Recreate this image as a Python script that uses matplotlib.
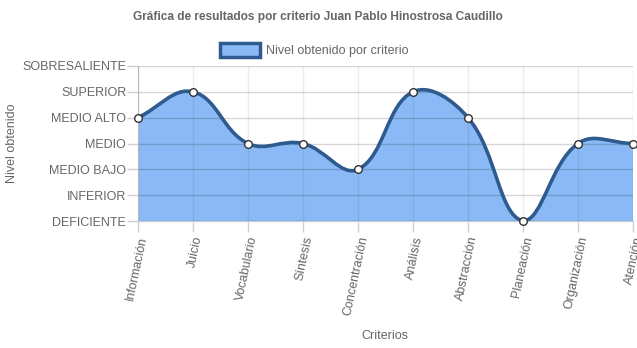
import numpy as np
import matplotlib
matplotlib.use("Agg")
import matplotlib.pyplot as plt
from matplotlib.path import Path
from matplotlib.patches import PathPatch, Patch

plt.rcParams['font.family'] = ['Liberation Sans', 'DejaVu Sans']

criterios = ["Información", "Juicio", "Vocabulario", "Síntesis", "Concentración",
             "Análisis", "Abstracción", "Planeación", "Organización", "Atención"]
niveles = ["DEFICIENTE", "INFERIOR", "MEDIO BAJO", "MEDIO", "MEDIO ALTO",
           "SUPERIOR", "SOBRESALIENTE"]
valores = [4, 5, 3, 3, 2, 5, 4, 0, 3, 3]

fill_color = "#8ab9f5"
line_color = "#2e5b8f"
text_color = "#666666"

W, H = 637, 348
fig = plt.figure(figsize=(W / 100, H / 100), dpi=100)
x0, x1, y0, y1 = 138, 633, 66, 221
ax = fig.add_axes([x0 / W, 1 - y1 / H, (x1 - x0) / W, (y1 - y0) / H])
ax.set_xlim(0, len(criterios) - 1)
ax.set_ylim(0, len(niveles) - 1)

# spline through the points, tension 0.4, computed in pixel units
sx = (x1 - x0) / (len(criterios) - 1)
sy = (y1 - y0) / (len(niveles) - 1)
pts = np.array([[i * sx, v * sy] for i, v in enumerate(valores)])
tension = 0.4
ctrl_prev, ctrl_next = [], []
for i in range(len(pts)):
    p0 = pts[max(i - 1, 0)]
    p1 = pts[i]
    p2 = pts[min(i + 1, len(pts) - 1)]
    d01 = np.hypot(*(p1 - p0))
    d12 = np.hypot(*(p2 - p1))
    s01 = d01 / (d01 + d12) if d01 + d12 else 0
    s12 = d12 / (d01 + d12) if d01 + d12 else 0
    cp = p1 - tension * s01 * (p2 - p0)
    cn = p1 + tension * s12 * (p2 - p0)
    cp[1] = np.clip(cp[1], 0, y1 - y0)
    cn[1] = np.clip(cn[1], 0, y1 - y0)
    ctrl_prev.append(cp / [sx, sy])
    ctrl_next.append(cn / [sx, sy])

data_pts = pts / [sx, sy]
verts = [data_pts[0]]
codes = [Path.MOVETO]
for i in range(1, len(data_pts)):
    verts += [ctrl_next[i - 1], ctrl_prev[i], data_pts[i]]
    codes += [Path.CURVE4] * 3
curve = Path(verts, codes)

fill_verts = verts + [(data_pts[-1][0], 0), (0, 0), data_pts[0]]
fill_codes = codes + [Path.LINETO, Path.LINETO, Path.CLOSEPOLY]
ax.add_patch(PathPatch(Path(fill_verts, fill_codes), facecolor=fill_color,
                       edgecolor="none", zorder=1))
ax.add_patch(PathPatch(curve, facecolor="none", edgecolor=line_color,
                       linewidth=2.6, zorder=3))
ax.plot(range(len(valores)), valores, "o", markersize=5.5, markerfacecolor="white",
        markeredgecolor="#333333", markeredgewidth=1.0, zorder=4, clip_on=False)

ax.set_xticks(range(len(criterios)))
ax.set_xticklabels(criterios, rotation=78, ha="right", va="top",
                   rotation_mode="anchor", color=text_color, fontsize=9)
ax.set_yticks(range(len(niveles)))
ax.set_yticklabels(niveles, color=text_color, fontsize=9)
ax.grid(axis="y", color="black", alpha=0.16, linewidth=1, zorder=2)
ax.grid(axis="x", color="black", alpha=0.07, linewidth=1, zorder=2)
ax.set_axisbelow(False)
ax.tick_params(axis="both", length=8, width=1, color="#d0d0d0")
ax.tick_params(axis="y", pad=0.5)
ax.tick_params(axis="x", pad=2)
for side in ["top", "right"]:
    ax.spines[side].set_visible(False)
for side in ["left", "bottom"]:
    ax.spines[side].set_color("#c8c8c8")

fig.text(318 / W, 1 - 17 / H, "Gráfica de resultados por criterio Juan Pablo Hinostrosa Caudillo",
         ha="center", va="center", fontsize=8.6, fontweight="bold", color=text_color)
fig.text(12 / W, 1 - 143 / H, "Nivel obtenido", rotation=90, ha="center", va="center",
         fontsize=9, color=text_color)
fig.text(385 / W, 1 - 336 / H, "Criterios", ha="center", va="center",
         fontsize=9, color=text_color)

handle = Patch(facecolor=fill_color, edgecolor=line_color, linewidth=2.5)
fig.legend([handle], ["Nivel obtenido por criterio"], loc="center",
           bbox_to_anchor=(314 / W, 1 - 50 / H), frameon=False, fontsize=9,
           handlelength=3.2, handleheight=1.3, handletextpad=0.5,
           labelcolor=text_color)

fig.savefig("out.png", dpi=100)
